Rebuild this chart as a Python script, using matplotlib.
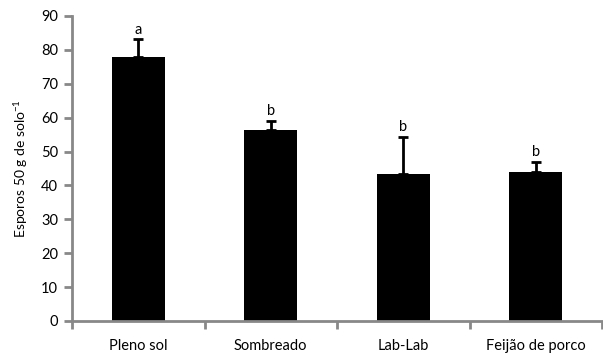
import matplotlib
matplotlib.use("Agg")
import matplotlib.pyplot as plt
import numpy as np

categories = ["Pleno sol", "Sombreado", "Lab-Lab", "Feijão de porco"]
means = [78.0, 56.4, 43.4, 43.9]
errors = [5.1, 2.7, 11.0, 3.0]
letters = ["a", "b", "b", "b"]
yticks = [0, 10, 20, 30, 40, 50, 60, 70, 80, 90]

plt.rcParams['font.family'] = ['Lato', 'DejaVu Sans']
plt.rcParams['mathtext.fontset'] = 'custom'
plt.rcParams['mathtext.rm'] = 'Lato'
plt.rcParams['mathtext.default'] = 'regular'

fig = plt.figure(figsize=(6.03, 3.53), dpi=100)
ax = fig.add_axes([72/603, 1-321/353, (602-72)/603, (321-16)/353])

x = np.arange(len(categories))
ax.bar(x, means, width=0.40, color='black', zorder=2)
ax.errorbar(x, means, yerr=[np.zeros(len(errors)), errors], fmt='none',
            ecolor='black', elinewidth=2, capsize=3.5, capthick=2, zorder=3)
for xi, m, e, l in zip(x, means, errors, letters):
    ax.text(xi, m + e + 0.8, l, ha='center', va='bottom', fontsize=10.5)

ax.set_xlim(-0.5, 3.5)
ax.set_ylim(0, 90)
ax.set_yticks(yticks)
ax.set_xticks(x)
ax.set_xticklabels(categories, fontsize=10.5)
ax.set_xticks(np.arange(-0.5, 3.6, 1.0), minor=True)
ax.tick_params(axis='x', which='major', length=0, pad=13)
ax.tick_params(axis='x', which='minor', length=6, width=2, color='#888888', direction='out')
ax.tick_params(axis='y', length=6, width=2, color='#888888', labelsize=10.5, pad=4)

for s in ['top', 'right']:
    ax.spines[s].set_visible(False)
for s in ['left', 'bottom']:
    ax.spines[s].set_color('#888888')
    ax.spines[s].set_linewidth(2)

ax.set_ylabel("Esporos 50 g de solo$^{-1}$", fontsize=10, labelpad=8)

fig.savefig("out.png", dpi=100)
